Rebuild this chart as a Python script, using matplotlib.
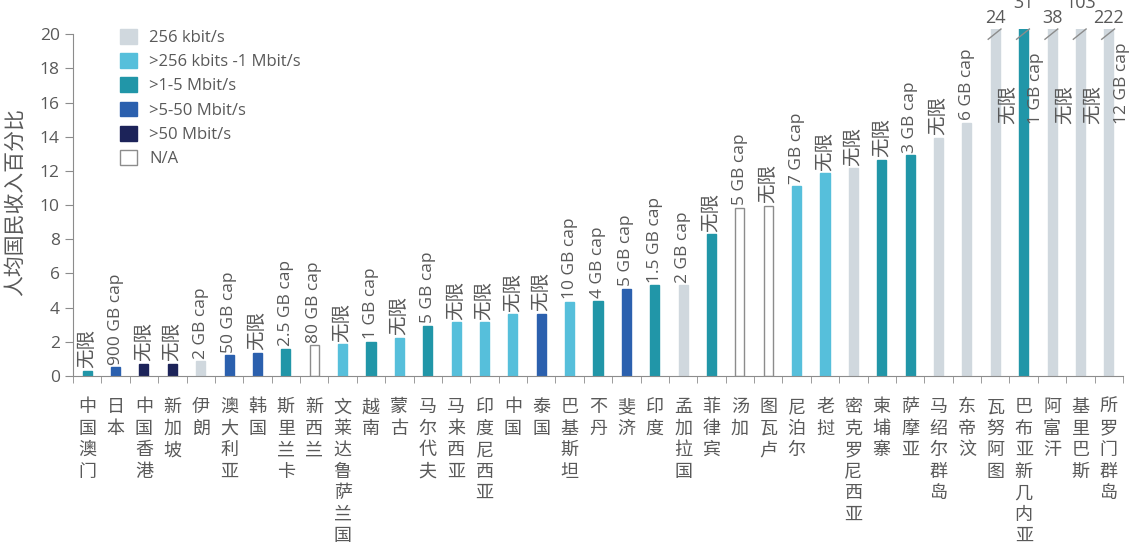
import matplotlib
matplotlib.use("Agg")
import matplotlib.pyplot as plt
from matplotlib.patches import Patch

plt.rcParams['font.family'] = ['Open Sans', 'Noto Sans CJK SC', 'DejaVu Sans']

# data
countries = ["中国澳门", "日本", "中国香港", "新加坡", "伊朗", "澳大利亚", "韩国", "斯里兰卡",
             "新西兰", "文莱达鲁萨兰国", "越南", "蒙古", "马尔代夫", "马来西亚", "印度尼西亚",
             "中国", "泰国", "巴基斯坦", "不丹", "斐济", "印度", "孟加拉国", "菲律宾", "汤加",
             "图瓦卢", "尼泊尔", "老挝", "密克罗尼西亚", "柬埔寨", "萨摩亚", "马绍尔群岛",
             "东帝汶", "瓦努阿图", "巴布亚新几内亚", "阿富汗", "基里巴斯", "所罗门群岛"]
values = [0.3, 0.5, 0.7, 0.7, 0.85, 1.2, 1.35, 1.6, 1.8, 1.85, 2.0, 2.25, 2.95, 3.15, 3.15,
          3.6, 3.65, 4.35, 4.4, 5.1, 5.3, 5.3, 8.3, 9.85, 9.95, 11.1, 11.85, 12.15, 12.65,
          12.9, 13.95, 14.8, 24, 31, 38, 103, 222]
# speed class: 0=256k, 1=>256k-1M, 2=>1-5M, 3=>5-50M, 4=>50M, 5=N/A
speed = [2, 3, 4, 4, 0, 3, 3, 2, 5, 1, 2, 1, 2, 1, 1, 1, 3, 1, 2, 3, 2, 0, 2, 5, 5, 1, 1,
         0, 2, 2, 0, 0, 0, 2, 0, 0, 0]
caps = ["无限", "900 GB cap", "无限", "无限", "2 GB cap", "50 GB cap", "无限", "2.5 GB cap",
        "80 GB cap", "无限", "1 GB cap", "无限", "5 GB cap", "无限", "无限", "无限", "无限",
        "10 GB cap", "4 GB cap", "5 GB cap", "1.5 GB cap", "2 GB cap", "无限", "5 GB cap",
        "无限", "7 GB cap", "无限", "无限", "无限", "3 GB cap", "无限", "6 GB cap", "无限",
        "1 GB cap", "无限", "无限", "12 GB cap"]
legend_labels = ["256 kbit/s", ">256 kbits -1 Mbit/s", ">1-5 Mbit/s", ">5-50 Mbit/s",
                 ">50 Mbit/s", "N/A"]
colors = ["#D0D8DE", "#56BFDB", "#2196A8", "#2B60AE", "#1C2359", "white"]

txt = "#595959"
grey = "#8c8c8c"
ymax = 20

fig = plt.figure(figsize=(11.34, 5.48), dpi=100)
ax = fig.add_axes([73 / 1134, 172 / 548, 1050 / 1134, 347 / 548])

x = list(range(len(countries)))
fc = [colors[s] for s in speed]
ec = [grey if s == 5 else colors[s] for s in speed]
ax.bar(x, values, width=0.32, color=fc, edgecolor=ec, linewidth=1)

def cap_size(s):
    # the chinese labels look bigger than the latin ones in the original
    return 14 if s == "无限" else 12.5

for i, v in enumerate(values):
    if v <= ymax:
        ax.text(i, v + 0.15, caps[i], rotation=90, ha='center', va='bottom',
                fontsize=cap_size(caps[i]), color=txt)
    else:
        # broken bar: slash, real value above, cap label beside the bar
        ax.plot([i - 0.25, i + 0.2], [19.7, 20.3], color=grey, lw=1, clip_on=False)
        k = i - 32
        ax.text(i, 20.95 if k % 2 == 0 else 21.85, f"{v:g}", ha='center', va='center',
                fontsize=13, color=txt, clip_on=False)
        ax.text(i + 0.45, 14.75, caps[i], rotation=90, ha='center', va='bottom',
                fontsize=cap_size(caps[i]), color=txt)

ax.set_xlim(-0.5, len(countries) - 0.5)
ax.set_ylim(0, 20.3)
ax.set_yticks(range(0, 21, 2))
ax.spines['left'].set_bounds(0, 20)
for s in ['top', 'right']:
    ax.spines[s].set_visible(False)
for s in ['left', 'bottom']:
    ax.spines[s].set_color(grey)

ax.set_xticks(x)
ax.set_xticklabels(['\n'.join(c) for c in countries], fontsize=13, color=txt,
                   linespacing=1.25, va='top')
ax.set_xticks([i - 0.5 for i in range(len(countries) + 1)], minor=True)
ax.tick_params(axis='x', which='major', length=0, pad=16)
ax.tick_params(axis='x', which='minor', length=5, color=grey)
ax.tick_params(axis='y', length=6, color=grey, labelsize=12.5, labelcolor=txt)

ax.set_ylabel("人均国民收入百分比", fontsize=15, color=txt, labelpad=10)

handles = [Patch(facecolor=colors[k], edgecolor=grey if k == 5 else colors[k])
           for k in range(len(legend_labels))]
ax.legend(handles, legend_labels, loc='upper left', bbox_to_anchor=(0.045, 1.0),
          frameon=False, fontsize=12, handlelength=1.0, handleheight=1.0,
          handletextpad=0.75, labelspacing=0.42, borderpad=0, borderaxespad=0,
          labelcolor=txt)

fig.savefig("out.png", dpi=100)
